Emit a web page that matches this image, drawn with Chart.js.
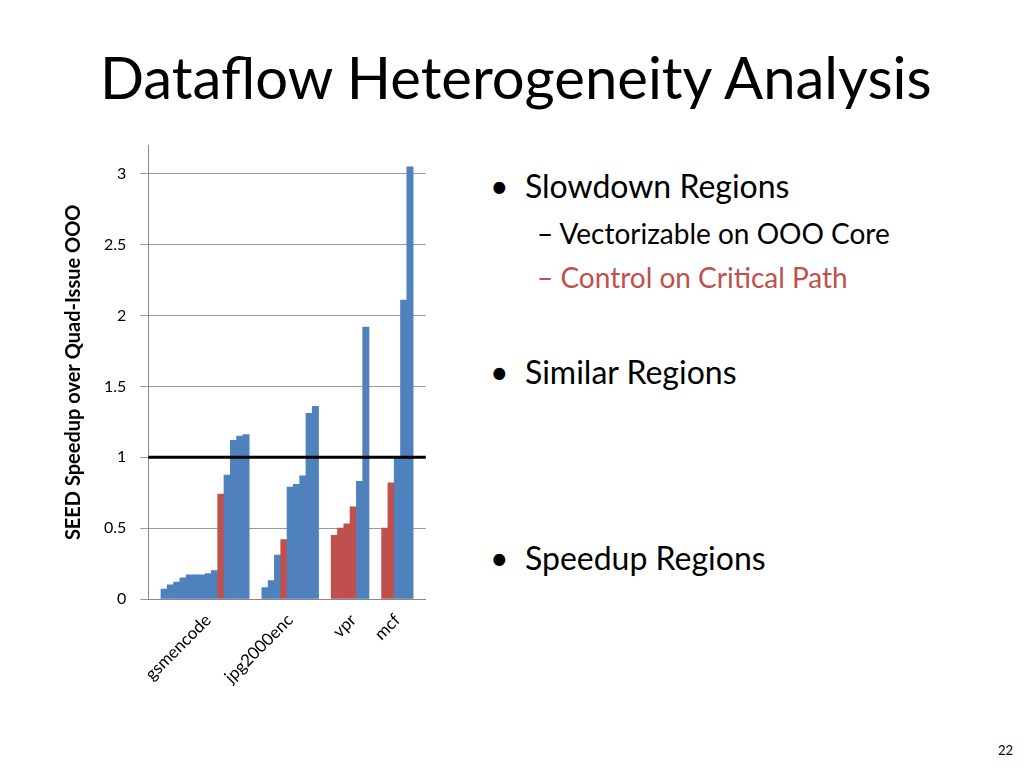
<!DOCTYPE html>
<html lang="en">
<head>
<meta charset="UTF-8">
<title>Dataflow Heterogeneity Analysis</title>
<script src="https://cdn.jsdelivr.net/npm/chart.js"></script>
<style>
    body { margin: 0; width: 1024px; height: 768px; background: #fff; font-family: Lato, "Open Sans", sans-serif; position: relative; overflow: hidden; }
    h1 { position: absolute; left: 100px; top: 42px; margin: 0; font-weight: normal; font-size: 58px; color: #000; }
    .chart-box { position: absolute; left: 58px; top: 122px; width: 382px; height: 568px; }
    .txt { position: absolute; color: #000; white-space: nowrap; }
    .b { font-size: 32px; }
    .s { font-size: 28px; }
    .red { color: #C0504D; }
</style>
</head>
<body>
<h1>Dataflow Heterogeneity Analysis</h1>
<div class="chart-box"><canvas id="chart"></canvas></div>
<div class="txt b" style="left:490px;top:166px">•&nbsp;&nbsp;Slowdown Regions</div>
<div class="txt s" style="left:537px;top:216px">–&nbsp;Vectorizable on OOO Core</div>
<div class="txt s red" style="left:537px;top:260px">–&nbsp;Control on Critical Path</div>
<div class="txt b" style="left:490px;top:352px">•&nbsp;&nbsp;Similar Regions</div>
<div class="txt b" style="left:490px;top:538px">•&nbsp;&nbsp;Speedup Regions</div>
<div class="txt" style="left:998px;top:742px;font-size:13px">22</div>

<script>
    // one slot per bar, null = gap between benchmarks
    const gsmValues = [0.07, 0.10, 0.12, 0.15, 0.17, 0.17, 0.17, 0.18, 0.20, 0.74, 0.875, 1.12, 1.15, 1.16];
    const gsmKinds  = ['b','b','b','b','b','b','b','b','b','r','b','b','b','b'];
    const jpgValues = [0.08, 0.13, 0.31, 0.42, 0.79, 0.81, 0.87, 1.31, 1.36];
    const jpgKinds  = ['b','b','b','r','b','b','b','b','b'];
    const vprValues = [0.45, 0.50, 0.53, 0.65, 0.83, 1.92];
    const vprKinds  = ['r','r','r','r','b','b'];
    const mcfValues = [0.50, 0.82, 1.00, 2.11, 3.05];
    const mcfKinds  = ['r','r','b','b','b'];
    const benchmarks = ['gsmencode', 'jpg2000enc', 'vpr', 'mcf'];

    const groups = [[gsmValues, gsmKinds], [jpgValues, jpgKinds], [vprValues, vprKinds], [mcfValues, mcfKinds]];
    const values = [], colors = [], labels = [];
    const pad = () => { values.push(null); colors.push('#fff'); labels.push(''); };
    pad(); pad();
    groups.forEach(([vals, kinds], g) => {
        const mid = Math.floor(vals.length / 2);
        vals.forEach((v, i) => {
            values.push(v);
            colors.push(kinds[i] === 'r' ? '#C0504D' : '#4F81BD');
            labels.push(i === mid ? benchmarks[g] : '');
        });
        pad(); pad();
    });

    const oneLine = {
        id: 'oneLine',
        afterDatasetsDraw(chart) {
            const { ctx, chartArea, scales } = chart;
            const y = scales.y.getPixelForValue(1);
            ctx.save();
            ctx.strokeStyle = '#000';
            ctx.lineWidth = 3;
            ctx.beginPath();
            ctx.moveTo(chartArea.left, y);
            ctx.lineTo(chartArea.right, y);
            ctx.stroke();
            ctx.restore();
        }
    };

    new Chart(document.getElementById('chart'), {
        type: 'bar',
        data: {
            labels: labels,
            datasets: [{ data: values, backgroundColor: colors, borderWidth: 0 }]
        },
        options: {
            responsive: true,
            maintainAspectRatio: false,
            animation: false,
            plugins: { legend: { display: false }, tooltip: { enabled: false } },
            datasets: { bar: { categoryPercentage: 1, barPercentage: 1 } },
            scales: {
                x: {
                    grid: { display: false },
                    border: { color: '#888' },
                    ticks: { autoSkip: false, minRotation: 45, maxRotation: 45, color: '#000', font: { family: 'Lato', size: 17 } }
                },
                y: {
                    min: 0, max: 3.2,
                    afterBuildTicks: axis => { axis.ticks = axis.ticks.filter(t => t.value <= 3); },
                    ticks: { stepSize: 0.5, padding: 14, color: '#000', font: { family: 'Lato', size: 16 }, callback: v => String(v) },
                    grid: { color: '#999', tickLength: 8 },
                    border: { color: '#888' },
                    title: { display: true, text: 'SEED Speedup over Quad-Issue OOO', color: '#000', font: { family: 'Lato', size: 20, weight: 'bold' } }
                }
            }
        },
        plugins: [oneLine]
    });
</script>
</body>
</html>
